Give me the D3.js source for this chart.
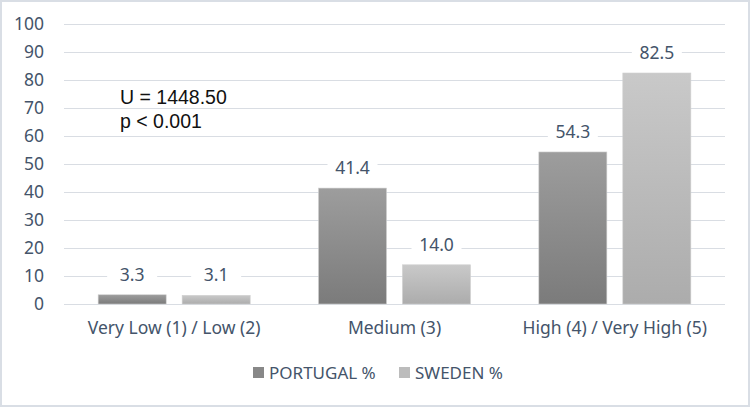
<!DOCTYPE html>
<html>
<head>
<meta charset="utf-8">
<script src="https://cdn.jsdelivr.net/npm/d3@7"></script>
<style>
  body { margin: 0; background: #fff; }
  svg { display: block; }
</style>
</head>
<body>
<svg id="chart"></svg>
<script>
// data
let categories = ['Very Low (1) / Low (2)', 'Medium (3)', 'High (4) / Very High (5)'];
let seriesNames = ['PORTUGAL %', 'SWEDEN %'];
let portugal = [3.3, 41.4, 54.3];
let sweden = [3.1, 14.0, 82.5];
let yTicks = [0, 10, 20, 30, 40, 50, 60, 70, 80, 90, 100];

let W = 750, H = 407;
let margin = {left: 64, right: 25, top: 24, bottom: 103};
let textColor = '#44546a';
let font = '"Noto Sans", sans-serif';

let svg = d3.select('#chart').attr('width', W).attr('height', H);

// outer frame
svg.append('rect')
    .attr('x', 1).attr('y', 1)
    .attr('width', W - 2).attr('height', H - 2)
    .attr('fill', '#fff')
    .attr('stroke', '#d9dee5')
    .attr('stroke-width', 2);

let y = d3.scaleLinear().domain([0, 100]).range([H - margin.bottom, margin.top]);
let x0 = d3.scaleBand().domain(categories)
    .range([margin.left, W - margin.right])
    .paddingInner(0.31).paddingOuter(0.155);
let x1 = d3.scaleBand().domain(seriesNames)
    .range([0, x0.bandwidth()])
    .paddingInner(0.19);

// gradients
let defs = svg.append('defs');
let grads = [
    {id: 'gPor', top: '#9d9d9d', bottom: '#7b7b7b'},
    {id: 'gSwe', top: '#c9c9c9', bottom: '#acacac'}
];
grads.forEach(function (g) {
    let lg = defs.append('linearGradient').attr('id', g.id)
        .attr('x1', 0).attr('y1', 0).attr('x2', 0).attr('y2', 1);
    lg.append('stop').attr('offset', '0%').attr('stop-color', g.top);
    lg.append('stop').attr('offset', '100%').attr('stop-color', g.bottom);
});
let fills = {'PORTUGAL %': 'url(#gPor)', 'SWEDEN %': 'url(#gSwe)'};
let legendFills = {'PORTUGAL %': '#888888', 'SWEDEN %': '#bcbcbc'};

// grid + y axis
let yAxis = d3.axisLeft(y)
    .tickValues(yTicks)
    .tickSize(-(W - margin.left - margin.right))
    .tickPadding(20);
let gy = svg.append('g')
    .attr('transform', `translate(${margin.left},0)`)
    .call(yAxis);
gy.select('.domain').remove();
gy.selectAll('.tick line').attr('stroke', '#d9dde3').attr('stroke-width', 1);
gy.selectAll('.tick text')
    .attr('fill', textColor)
    .style('font-family', font)
    .style('font-size', '17.5px');

// bars
let rows = categories.map(function (c, i) {
    return {cat: c, values: [
        {name: seriesNames[0], v: portugal[i]},
        {name: seriesNames[1], v: sweden[i]}
    ]};
});

let groups = svg.selectAll('g.grp')
    .data(rows)
    .enter().append('g')
    .attr('class', 'grp')
    .attr('transform', function (d) { return `translate(${x0(d.cat)},0)`; });

groups.selectAll('rect')
    .data(function (d) { return d.values; })
    .enter().append('rect')
    .attr('x', function (d) { return x1(d.name); })
    .attr('y', function (d) { return y(d.v); })
    .attr('width', x1.bandwidth())
    .attr('height', function (d) { return y(0) - y(d.v); })
    .attr('fill', function (d) { return fills[d.name]; })
    .attr('stroke', '#d0d0d0')
    .attr('stroke-width', 0.6);

// value labels with white backing
let labels = groups.selectAll('g.lbl')
    .data(function (d) { return d.values; })
    .enter().append('g')
    .attr('class', 'lbl')
    .attr('transform', function (d) {
        return `translate(${x1(d.name) + x1.bandwidth() / 2},${y(d.v) - 20})`;
    });
labels.append('rect')
    .attr('x', -25).attr('y', -11)
    .attr('width', 50).attr('height', 22)
    .attr('fill', '#fff');
labels.append('text')
    .attr('text-anchor', 'middle')
    .attr('dy', '0.35em')
    .attr('fill', textColor)
    .style('font-family', font)
    .style('font-size', '17.5px')
    .text(function (d) { return d.v.toFixed(1); });

// category axis
let xAxis = d3.axisBottom(x0).tickSize(0).tickPadding(18);
let gx = svg.append('g')
    .attr('transform', `translate(0,${y(0)})`)
    .call(xAxis);
gx.select('.domain').remove();
gx.selectAll('.tick text')
    .attr('fill', textColor)
    .style('font-family', font)
    .style('font-size', '17.5px');

// legend
let legendX = [253, 399];
let legend = svg.selectAll('g.leg')
    .data(seriesNames)
    .enter().append('g')
    .attr('class', 'leg')
    .attr('transform', function (d, i) { return `translate(${legendX[i]},373)`; });
legend.append('rect')
    .attr('x', 0).attr('y', -6)
    .attr('width', 11).attr('height', 11)
    .attr('fill', function (d) { return legendFills[d]; });
legend.append('text')
    .attr('x', 16)
    .attr('dy', '0.35em')
    .attr('fill', textColor)
    .style('font-family', font)
    .style('font-size', '17px')
    .text(function (d) { return d; });

// statistic annotation
let note = ['U = 1448.50', 'p < 0.001'];
svg.selectAll('text.note')
    .data(note)
    .enter().append('text')
    .attr('class', 'note')
    .attr('x', 120)
    .attr('y', function (d, i) { return 97 + i * 24; })
    .attr('dy', '0.35em')
    .attr('fill', '#111')
    .style('font-family', '"Liberation Sans", Arial, sans-serif')
    .style('font-size', '19.5px')
    .text(function (d) { return d; });
</script>
</body>
</html>
